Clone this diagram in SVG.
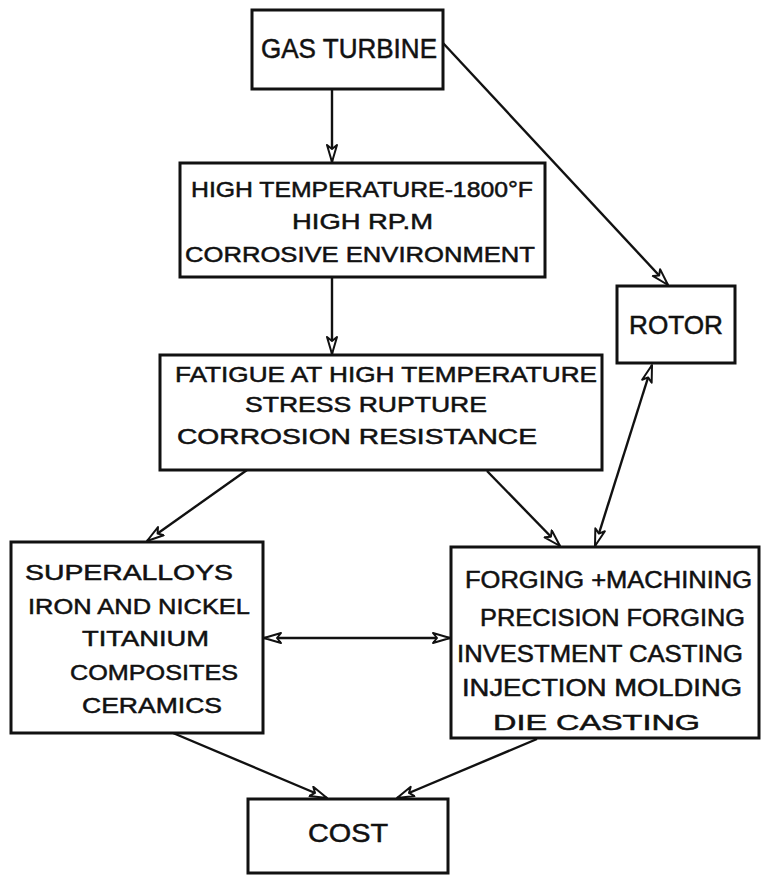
<svg xmlns="http://www.w3.org/2000/svg" width="761" height="876" viewBox="0 0 761 876">
  <style>
    .box { fill: #ffffff; stroke: #111111; stroke-width: 3; }
    .lbl { font-family: "Liberation Sans", Arial, sans-serif; fill: #111111; stroke: #111111; stroke-width: 0.5; }
    .wire { stroke: #111111; stroke-width: 2.4; fill: none; }
  </style>
  <defs>
    <!-- open arrowhead, reused at both ends of two-way links -->
    <marker id="head" markerUnits="userSpaceOnUse" markerWidth="22" markerHeight="14" refX="18" refY="6" orient="auto-start-reverse" viewBox="0 0 22 14">
      <path d="M1,1 L18,6 L1,11 L5,6 Z" fill="#ffffff" stroke="#111111" stroke-width="2" stroke-linejoin="round"/>
    </marker>
  </defs>
  <rect width="761" height="876" fill="#ffffff"/>

  <!-- connectors -->
  <g id="connectors">
    <line class="wire" x1="332" y1="89" x2="332" y2="162" marker-end="url(#head)"/>
    <line class="wire" x1="443" y1="43" x2="668" y2="285" marker-end="url(#head)"/>
    <line class="wire" x1="332" y1="277" x2="332" y2="354" marker-end="url(#head)"/>
    <line class="wire" x1="595" y1="546" x2="652" y2="365" marker-start="url(#head)" marker-end="url(#head)"/>
    <line class="wire" x1="247" y1="470" x2="147" y2="541" marker-end="url(#head)"/>
    <line class="wire" x1="487" y1="471" x2="560" y2="546" marker-end="url(#head)"/>
    <line class="wire" x1="264" y1="638" x2="450" y2="638" marker-start="url(#head)" marker-end="url(#head)"/>
    <line class="wire" x1="173" y1="733" x2="327" y2="798" marker-end="url(#head)"/>
    <line class="wire" x1="537" y1="739" x2="397" y2="798" marker-end="url(#head)"/>
  </g>

  <!-- GAS TURBINE -->
  <g id="gas-turbine">
    <rect class="box" x="252" y="10" width="191" height="79"/>
    <text class="lbl" x="261" y="58" font-size="27" textLength="176" lengthAdjust="spacingAndGlyphs">GAS TURBINE</text>
  </g>

  <!-- operating conditions -->
  <g id="conditions">
    <rect class="box" x="180" y="163" width="365" height="114"/>
    <text class="lbl" x="191" y="197" font-size="22" textLength="342" lengthAdjust="spacingAndGlyphs">HIGH TEMPERATURE-1800°F</text>
    <text class="lbl" x="292" y="229" font-size="22" textLength="141" lengthAdjust="spacingAndGlyphs">HIGH RP.M</text>
    <text class="lbl" x="185" y="262" font-size="22" textLength="350" lengthAdjust="spacingAndGlyphs">CORROSIVE  ENVIRONMENT</text>
  </g>

  <!-- ROTOR -->
  <g id="rotor">
    <rect class="box" x="617" y="286" width="118" height="77"/>
    <text class="lbl" x="629" y="334" font-size="26" textLength="94" lengthAdjust="spacingAndGlyphs">ROTOR</text>
  </g>

  <!-- material requirements -->
  <g id="requirements">
    <rect class="box" x="160" y="355" width="442" height="115"/>
    <text class="lbl" x="175" y="382" font-size="22" textLength="422" lengthAdjust="spacingAndGlyphs">FATIGUE AT HIGH TEMPERATURE</text>
    <text class="lbl" x="245" y="412" font-size="22" textLength="242" lengthAdjust="spacingAndGlyphs">STRESS RUPTURE</text>
    <text class="lbl" x="177" y="444" font-size="22" textLength="360" lengthAdjust="spacingAndGlyphs">CORROSION  RESISTANCE</text>
  </g>

  <!-- materials -->
  <g id="materials">
    <rect class="box" x="11" y="542" width="252" height="191"/>
    <text class="lbl" x="25" y="580" font-size="22" textLength="208" lengthAdjust="spacingAndGlyphs">SUPERALLOYS</text>
    <text class="lbl" x="28" y="614" font-size="22" textLength="222" lengthAdjust="spacingAndGlyphs">IRON AND NICKEL</text>
    <text class="lbl" x="82" y="646" font-size="22" textLength="127" lengthAdjust="spacingAndGlyphs">TITANIUM</text>
    <text class="lbl" x="70" y="680" font-size="22" textLength="168" lengthAdjust="spacingAndGlyphs">COMPOSITES</text>
    <text class="lbl" x="82" y="713" font-size="22" textLength="140" lengthAdjust="spacingAndGlyphs">CERAMICS</text>
  </g>

  <!-- manufacturing processes -->
  <g id="processes">
    <rect class="box" x="451" y="547" width="308" height="191"/>
    <text class="lbl" x="465" y="588" font-size="23" textLength="287" lengthAdjust="spacingAndGlyphs">FORGING +MACHINING</text>
    <text class="lbl" x="480" y="626" font-size="23" textLength="265" lengthAdjust="spacingAndGlyphs">PRECISION FORGING</text>
    <text class="lbl" x="457" y="662" font-size="23" textLength="286" lengthAdjust="spacingAndGlyphs">INVESTMENT CASTING</text>
    <text class="lbl" x="462" y="696" font-size="23" textLength="280" lengthAdjust="spacingAndGlyphs">INJECTION MOLDING</text>
    <text class="lbl" x="493" y="730" font-size="22" textLength="207" lengthAdjust="spacingAndGlyphs">DIE  CASTING</text>
  </g>

  <!-- COST -->
  <g id="cost">
    <rect class="box" x="248" y="799" width="200" height="74"/>
    <text class="lbl" x="308" y="842" font-size="25" textLength="80" lengthAdjust="spacingAndGlyphs">COST</text>
  </g>
</svg>
